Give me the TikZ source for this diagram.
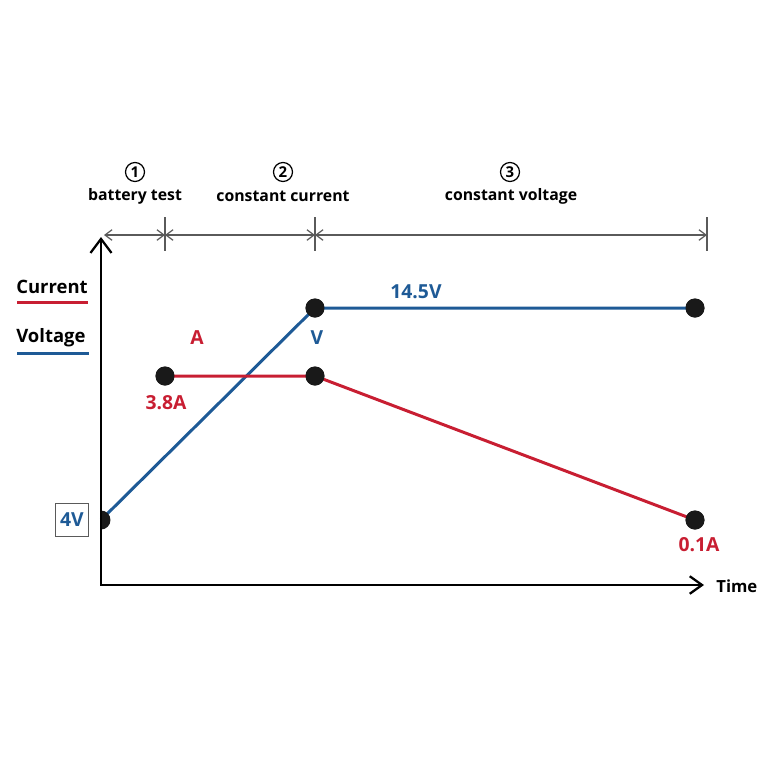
\documentclass[tikz,border=0pt]{standalone}
\usepackage{fontspec}
\setmainfont{Open Sans}
\usetikzlibrary{arrows.meta}
\definecolor{cred}{RGB}{200,30,50}
\definecolor{cblue}{RGB}{30,90,150}
\definecolor{dimgray}{RGB}{90,90,90}
\begin{document}
\begin{tikzpicture}[x=0.02cm,y=-0.02cm,
  lbl/.style={font=\fontsize{11}{12}\selectfont\bfseries, inner sep=0pt},
  head/.style={font=\fontsize{9}{10}\selectfont\bfseries, inner sep=0pt},
  leg/.style={font=\fontsize{10.5}{12}\selectfont\bfseries, inner sep=0pt, anchor=west},
  numc/.style={circle, draw=black, line width=0.7pt, minimum size=0.38cm, inner sep=0pt, font=\fontsize{8.5}{9}\selectfont\bfseries},
  dot/.style={circle, fill=black!90, minimum size=0.38cm, inner sep=0pt},
  axis/.style={line width=1.3pt, black},
  dim/.style={line width=0.7pt, dimgray},
  cur/.style={line width=1.7pt, cred},
  vol/.style={line width=1.7pt, cblue},
  tick/.style={line width=0.9pt, dimgray}
]
\useasboundingbox (0,0) rectangle (762,762);

% phase headings
\node[numc] (n1) at (135,172) {1};
\node[numc] (n2) at (283,172) {2};
\node[numc] (n3) at (510,172) {3};
\node[head] (p1) at (135,196) {battery test};
\node[head] (p2) at (283,196) {constant current};
\node[head] (p3) at (511,196) {constant voltage};

% dimension line
\coordinate (d0) at (104,235);
\coordinate (d1) at (165,235);
\coordinate (d2) at (315,235);
\coordinate (d3) at (707,235);
\coordinate (t1a) at (165,217); \coordinate (t1b) at (165,251);
\coordinate (t2a) at (315,217); \coordinate (t2b) at (315,251);
\coordinate (t3a) at (707,217); \coordinate (t3b) at (707,251);
\draw[tick] (t1a) -- (t1b);
\draw[tick] (t2a) -- (t2b);
\draw[tick] (t3a) -- (t3b);
\draw[dim, {Straight Barb[length=4pt,width=6pt]}-{Straight Barb[length=4pt,width=6pt]}] (d0) -- (d1);
\draw[dim, {Straight Barb[length=4pt,width=6pt]}-{Straight Barb[length=4pt,width=6pt]}] (d1) -- (d2);
\draw[dim, {Straight Barb[length=4pt,width=6pt]}-{Straight Barb[length=4pt,width=6pt]}] (d2) -- (d3);

% legend
\node[leg] (lc) at (16,287) {Current};
\node[leg] (lv) at (16,338) {Voltage};
\coordinate (cu1) at (17,302); \coordinate (cu2) at (88,302);
\coordinate (vu1) at (17,353); \coordinate (vu2) at (89,353);
\draw[cur] (cu1) -- (cu2);
\draw[vol] (vu1) -- (vu2);

% data points
\coordinate (v0) at (101,520);
\node[dot] (a1) at (165,376) {};
\node[dot] (v1) at (315,308) {};
\node[dot] (a2) at (315,376) {};
\node[dot] (v2) at (695,308) {};
\node[dot] (a3) at (695,520) {};

\draw[vol] (v0) -- (v1.center) -- (v2.center);
\draw[cur] (a1.center) -- (a2.center) -- (a3.center);
\node[dot] at (a1) {};
\node[dot] at (v1) {};
\node[dot] at (a2) {};
\node[dot] at (v2) {};
\node[dot] at (a3) {};
\begin{scope}
  \clip (101,500) rectangle (130,540);
  \node[dot] (v0dot) at (v0) {};
\end{scope}

% axes
\coordinate (O) at (101,585);
\coordinate (ytop) at (101,237);
\coordinate (xend) at (704,585);
\draw[axis, {Straight Barb[length=8pt,width=12pt]}-{Straight Barb[length=7pt,width=10pt]}] (ytop) -- (O) -- (xend);

% labels
\node[lbl, text=cred] (la) at (197,338) {A};
\node[lbl, text=cblue] (lvv) at (317,338) {V};
\node[lbl, text=cred] (l38) at (166,403) {3.8A};
\node[lbl, text=cblue] (l145) at (416,292) {14.5V};
\node[lbl, text=cred] (l01) at (699,545) {0.1A};
\node[head, font=\fontsize{9.5}{10}\selectfont\bfseries, anchor=west] (ltime) at (716,586) {Time};
\node[lbl, text=cblue, draw=dimgray, line width=0.6pt, minimum size=0.66cm] (l4v) at (72,520) {4V};
\end{tikzpicture}
\end{document}
